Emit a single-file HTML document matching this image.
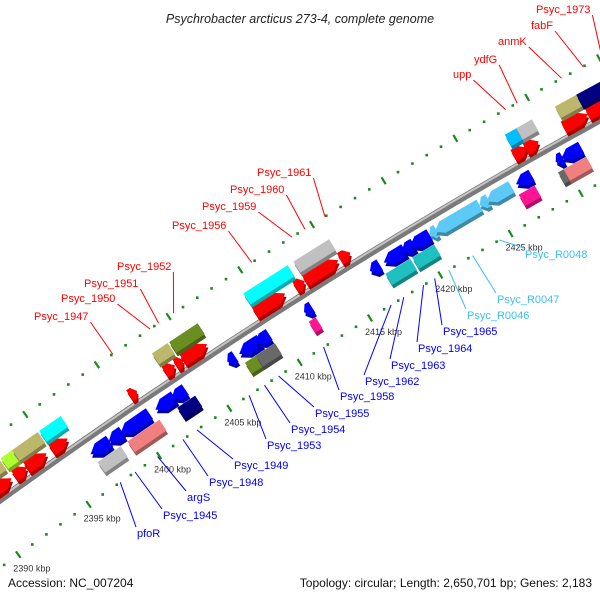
<!DOCTYPE html>
<html><head><meta charset="utf-8">
<style>
html,body{margin:0;padding:0;background:#fff;}
svg{display:block;font-family:"Liberation Sans",sans-serif;}
</style></head>
<body>
<svg id="chart" width="600" height="600" viewBox="0 0 600 600">
<text x="300" y="23" text-anchor="middle" font-size="12.5" font-style="italic" fill="#222">Psychrobacter arcticus 273-4, complete genome</text>
<text x="8" y="587" font-size="12" fill="#111">Accession: NC_007204</text>
<text x="592" y="587" font-size="12" fill="#111" text-anchor="end">Topology: circular; Length: 2,650,701 bp; Genes: 2,183</text>
<g id="layer-tracks"></g><g id="layer-axis"></g><g id="layer-genes"></g><g id="layer-labels"></g>
</svg>
<script>
// ---- data ----
const tickStart = 2388, tickEnd = 2436;
const tickLabelKbp = [2390, 2395, 2400, 2405, 2410, 2415, 2420, 2425];
// genes: start kbp, end kbp, row, color
const geneStart = [2389.0,2392.46,2393.31,2395.07,2400.56,2403.03,2403.80,2404.30,2409.37,2412.2,2412.89,2415.35,2427.54,2428.38,2431.06,2432.75,
 2391.0,2392.4,2393.2,2395.1,2403.0,2404.2,2409.4,2412.9,2427.7,2428.5,2431.2,2432.7,
 2396.76,2398.03,2398.87,2401.34,2402.46,2406.41,2407.25,2408.38,2411.83,2416.48,2417.46,2418.73,2419.30,2420.70,2421.06,2424.23,2424.72,2426.8,2429.6,2430.0,
 2396.83,2398.94,2402.46,2407.25,2408.03,2411.76,2417.18,2419.08,2426.62,2429.4,2429.8];
const geneEnd = [2392.25,2393.31,2394.72,2396.20,2401.06,2403.73,2404.30,2405.99,2411.48,2412.85,2415.21,2416.06,2428.52,2429.3,2432.75,2434.6,
 2392.3,2393.2,2395.0,2396.6,2404.1,2406.2,2412.5,2415.4,2428.7,2429.6,2433.1,2434.6,
 2398.10,2399.01,2400.92,2402.68,2403.45,2406.97,2408.73,2409.37,2412.39,2417.18,2418.94,2419.58,2420.70,2421.20,2424.23,2424.86,2426.48,2427.9,2430.1,2431.4,
 2398.45,2401.20,2403.73,2408.66,2409.37,2412.25,2418.94,2420.63,2427.75,2430.0,2431.4];
const geneRow = [1,1,1,1,1,1,1,1,1,1,1,1,1,1,1,1,
 2,2,2,2,2,2,2,2,2,2,2,2,
 3,3,3,3,3,3,3,3,3,3,3,3,3,3,3,3,3,3,3,3,
 4,4,4,4,4,4,4,4,4,4,4];
const geneColor = ["#ff0000","#ff0000","#ff0000","#ff0000","#ff0000","#ff0000","#ff0000","#ff0000","#ff0000","#ff0000","#ff0000","#ff0000","#ff0000","#ff0000","#ff0000","#ff0000",
 "#bdb76b","#adff2f","#bdb76b","#00ffff","#bdb76b","#6b8e23","#00ffff","#c0c0c0","#00bfff","#c0c0c0","#bdb76b","#000080",
 "#0000ff","#0000ff","#0000ff","#0000ff","#0000ff","#0000ff","#0000ff","#0000ff","#0000ff","#0000ff","#0000ff","#0000ff","#0000ff","#5ccaf5","#5ccaf5","#5ccaf5","#5ccaf5","#0000ff","#0000ff","#0000ff",
 "#c0c0c0","#f08080","#000080","#6b8e23","#696969","#ff1493","#20c0c0","#20c0c0","#ff1493","#696969","#f08080"];
const labelText = ["Psyc_1947","Psyc_1950","Psyc_1951","Psyc_1952","Psyc_1956","Psyc_1959","Psyc_1960","Psyc_1961","upp","ydfG","anmK","fabF","Psyc_1973",
 "pfoR","Psyc_1945","argS","Psyc_1948","Psyc_1949","Psyc_1953","Psyc_1954","Psyc_1955","Psyc_1958","Psyc_1962","Psyc_1963","Psyc_1964","Psyc_1965","Psyc_R0046","Psyc_R0047","Psyc_R0048"];
const labelKbp = [2401.1,2403.7,2404.3,2405.35,2410.8,2413.6,2414.5,2415.9,2428.5,2429.3,2432.4,2433.9,2435.2,
 2397.25,2398.3,2399.9,2401.7,2402.7,2406.4,2407.5,2408.5,2411.7,2416.5,2417.4,2418.8,2419.6,2420.6,2422.3,2424.2];
const labelSide = [0,0,0,0,0,0,0,0,0,0,0,0,0, 1,1,1,1,1,1,1,1,1,1,1,1,1,1,1,1];
const labelColor = ["#f00","#f00","#f00","#f00","#f00","#f00","#f00","#f00","#f00","#f00","#f00","#f00","#f00",
 "#00f","#00f","#00f","#00f","#00f","#00f","#00f","#00f","#00f","#00f","#00f","#00f","#00f","#3cc0f0","#3cc0f0","#3cc0f0"];
// label text anchor positions (layout)
const labelPosX = [34,61,84,117,172,202,230,257,453,474,498,531,536, 137,163,187,209,234,267,291,315,340,365,391,418,443,467,497,525];
const labelPosY = [320,302,287,270,229,210,193,176,78,63,45,29,13, 537,519,501,486,469,449,433,417,400,385,369,352,335,319,303,258];

// ---- axis functions ----
const NS = "http://www.w3.org/2000/svg";
function axisY(x){ return 500 - 0.72*x + 0.0001444*x*x; }
function baseX(k){ return -14 + 14.2*(k-2390); }
function pt(k, off){
  const x = baseX(k), s = -0.72 + 2*0.0001444*x, n = Math.sqrt(1+s*s);
  return [x + off*(-s)/n, axisY(x) + off*(1/n)];
}
function mk(tag, attrs, parent){
  const e = document.createElementNS(NS, tag);
  for (const a in attrs) e.setAttribute(a, attrs[a]);
  parent.appendChild(e); return e;
}
const tracks = document.getElementById('layer-tracks');
const axisL = document.getElementById('layer-axis');
const genesL = document.getElementById('layer-genes');
const labelsL = document.getElementById('layer-labels');

// axis line
let d = "";
for (let x=-20; x<=620; x+=10) d += (d?"L":"M") + x + "," + axisY(x).toFixed(1);
let ax = mk('path', {d:d, stroke:"#7a7a7a", "stroke-width":7, fill:"none"}, axisL);


let ax2 = mk('path', {d:d, stroke:"#c4c4c4", "stroke-width":2, fill:"none", transform:"translate(0,-2)"}, axisL);



// ticks on both tracks
[-55, 55].forEach(function(off){
  for (let k=tickStart; k<=tickEnd; k++){
    const p = pt(k, off);
    if (k % 5 === 0){
      const a = pt(k, off-4), b = pt(k, off+4);
      const t = mk('line', {x1:a[0].toFixed(1), y1:a[1].toFixed(1), x2:b[0].toFixed(1), y2:b[1].toFixed(1), stroke:"#1a8a1a", "stroke-width":2.2}, tracks);
      
      
    } else {
      const t = mk('rect', {x:(p[0]-1.3).toFixed(1), y:(p[1]-1.3).toFixed(1), width:2.6, height:2.6, fill:"#1a8a1a"}, tracks);
      
      
    }
  }
});
tickLabelKbp.forEach(function(k){
  const p = pt(k, 55);
  const t = mk('text', {x:(p[0]-5).toFixed(1), y:(p[1]+17).toFixed(1), "font-size":9, fill:"#333"}, tracks);
  t.textContent = k + " kbp";
  
  
});

// genes
const rowOff = {1:-11, 2:-27, 3:15, 4:32};
function shade(hex, f){
  const c = hex.length===4 ? hex.slice(1).split('').map(h=>parseInt(h+h,16)) : [1,3,5].map(i=>parseInt(hex.substr(i,2),16));
  return "rgb(" + c.map(v=>Math.round(v*f)).join(",") + ")";
}
for (let i=0; i<geneStart.length; i++){
  const row = geneRow[i], off = rowOff[row], h = 6.5;
  const fwd = row <= 2;
  const k0 = geneStart[i], k1 = geneEnd[i];
  const lenK = k1 - k0, head = Math.min(0.55, lenK*0.5);
  let poly;
  const isArrow = (row===1 || row===3);
  if (!isArrow){
    poly = [pt(k0,off-h), pt(k1,off-h), pt(k1,off+h), pt(k0,off+h)];
  } else if (fwd){
    poly = [pt(k0,off-h), pt(k1-head,off-h), pt(k1,off), pt(k1-head,off+h), pt(k0,off+h)];
  } else {
    poly = [pt(k0,off), pt(k0+head,off-h), pt(k1,off-h), pt(k1,off+h), pt(k0+head,off+h)];
  }
  const g = mk('g', {}, genesL);
  
  
  const ptsStr = poly.map(p=>p[0].toFixed(1)+","+p[1].toFixed(1)).join(" ");
  mk('polygon', {points: ptsStr, fill: shade(geneColor[i], 0.68), transform:"translate(1.5,3.5)"}, g);
  mk('polygon', {points: ptsStr, fill: geneColor[i]}, g);
}

// labels
for (let i=0; i<labelText.length; i++){
  const t = mk('text', {x:labelPosX[i], y:labelPosY[i], "font-size":11, fill:labelColor[i]}, labelsL);
  t.textContent = labelText[i];
  
  
  let sx, sy, end;
  if (labelSide[i] === 0){
    const w = t.getComputedTextLength();
    sx = labelPosX[i] + w + 2; sy = labelPosY[i] + 2;
    end = pt(labelKbp[i], -55);
  } else {
    sx = labelPosX[i] - 1; sy = labelPosY[i] - 10;
    end = pt(labelKbp[i], 55);
  }
  const ln = mk('line', {x1:sx.toFixed(1), y1:sy.toFixed(1), x2:end[0].toFixed(1), y2:end[1].toFixed(1), stroke:labelColor[i], "stroke-width":1}, labelsL);
  
  
}
</script>
</body></html>
